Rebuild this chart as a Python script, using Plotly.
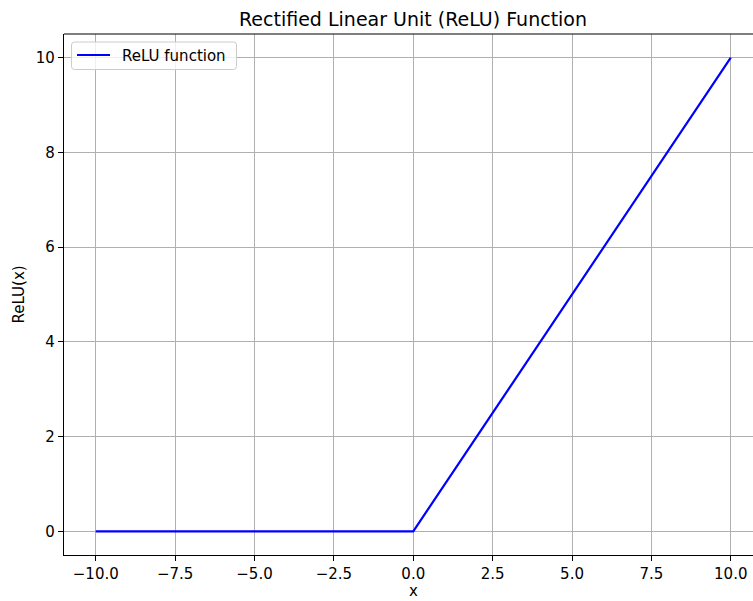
import plotly.graph_objects as go

# ReLU breakpoints: flat at zero for x <= 0, identity for x > 0
x_vals = [-10.0, 0.0, 10.0]
relu_vals = [0.0, 0.0, 10.0]

x_ticks = [-10.0, -7.5, -5.0, -2.5, 0.0, 2.5, 5.0, 7.5, 10.0]
y_ticks = [0, 2, 4, 6, 8, 10]

series_name = "ReLU function"
line_color = "#0000ff"

W, H = 753, 601
L, T, B = 64, 34, 46
x_range = [-11.0, 10.70]
y_range = [-0.5, 10.5]
PW, PH = W - L, H - T - B

font = dict(family="DejaVu Sans", size=15, color="black")


def px_x(p):
    """pixel column -> paper x"""
    return (p - L) / PW


def px_y(p):
    """pixel row -> paper y"""
    return (H - B - p) / PH


fig = go.Figure()
fig.add_trace(go.Scatter(
    x=x_vals, y=relu_vals, mode="lines", name=series_name,
    line=dict(color=line_color, width=2.2), showlegend=False,
))

axis_common = dict(
    showgrid=True, gridcolor="#b0b0b0", gridwidth=1.2,
    zeroline=False, showline=True, linecolor="black", linewidth=1.2,
    ticks="outside", ticklen=5, tickwidth=1.2, tickcolor="black",
    tickfont=font, mirror=False,
)

fig.update_layout(
    width=W, height=H, autosize=False,
    margin=dict(l=L, r=0, t=T, b=B, pad=0),
    paper_bgcolor="white", plot_bgcolor="white",
    font=font,
    showlegend=False,
    xaxis=dict(range=x_range, tickvals=x_ticks, tickformat=".1f",
               ticklabelstandoff=0, **axis_common),
    yaxis=dict(range=y_range, tickvals=y_ticks, **axis_common),
)

# top frame line across the plotting area
fig.add_shape(type="line", xref="paper", yref="paper", x0=0, x1=1, y0=1, y1=1,
              line=dict(color="black", width=1.2), layer="above")

# legend box with rounded corners
x0, x1 = px_x(71.5), px_x(236.5)
y0, y1 = px_y(69.5), px_y(42)
rx, ry = 3 / PW, 3 / PH
path = (f"M {x0 + rx},{y1} L {x1 - rx},{y1} Q {x1},{y1} {x1},{y1 - ry} "
        f"L {x1},{y0 + ry} Q {x1},{y0} {x1 - rx},{y0} "
        f"L {x0 + rx},{y0} Q {x0},{y0} {x0},{y0 + ry} "
        f"L {x0},{y1 - ry} Q {x0},{y1} {x0 + rx},{y1} Z")
fig.add_shape(type="path", xref="paper", yref="paper", path=path,
              fillcolor="rgba(255,255,255,0.8)", line=dict(color="#cccccc", width=1),
              layer="above")
fig.add_shape(type="line", xref="paper", yref="paper",
              x0=px_x(77), x1=px_x(110), y0=px_y(55), y1=px_y(55),
              line=dict(color=line_color, width=2.2), layer="above")
fig.add_annotation(text=series_name, xref="paper", yref="paper",
                   x=px_x(120), y=px_y(55.5), xanchor="left", yanchor="middle",
                   showarrow=False, font=font)

# title and axis labels centred on x = 0 of the data axis
fig.add_annotation(text="Rectified Linear Unit (ReLU) Function", x=0, xref="x",
                   y=1, yref="paper", yshift=2, yanchor="bottom", showarrow=False,
                   font=dict(family="DejaVu Sans", size=19, color="black"))
fig.add_annotation(text="x", x=0, xref="x", y=px_y(601), yref="paper",
                   yanchor="bottom", showarrow=False, borderpad=0, font=font)
fig.add_annotation(text="ReLU(x)", x=0, xref="paper", xshift=-35, xanchor="right",
                   y=0.5, yref="paper", textangle=-90, showarrow=False, font=font)

fig.write_html("out.html")
